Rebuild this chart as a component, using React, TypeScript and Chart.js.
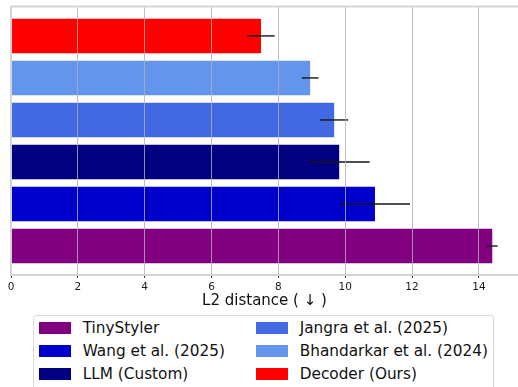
import React, { useEffect, useRef } from "react";
import { Chart, registerables } from "chart.js";

Chart.register(...registerables);

// Mean L2 distance per method (lower is better) with its spread
const methods = [
  "TinyStyler",
  "Wang et al. (2025)",
  "LLM (Custom)",
  "Jangra et al. (2025)",
  "Bhandarkar et al. (2024)",
  "Decoder (Ours)",
];
const l2Distance = [14.4, 10.89, 9.82, 9.67, 8.95, 7.48];
const l2Error = [0.16, 1.05, 0.91, 0.42, 0.25, 0.41];
const barColors = ["#800080", "#0000cd", "#000080", "#4169e1", "#6495ed", "#ff0000"];
const xTicks = [0, 2, 4, 6, 8, 10, 12, 14];
const xMax = 15.17;

const FONT = "'DejaVu Sans', sans-serif";
const SPINE = "#d4d4d4";

// horizontal error whiskers, no caps
const errorBars = {
  id: "errorBars",
  afterDatasetsDraw(chart: any) {
    const { ctx } = chart;
    const x = chart.scales.x;
    const meta = chart.getDatasetMeta(0);
    ctx.save();
    ctx.strokeStyle = "#151515";
    ctx.lineWidth = 1.4;
    meta.data.forEach((bar: any, i: number) => {
      const v = l2Distance[i];
      const e = l2Error[i];
      ctx.beginPath();
      ctx.moveTo(x.getPixelForValue(v - e), bar.y);
      ctx.lineTo(x.getPixelForValue(v + e), bar.y);
      ctx.stroke();
    });
    ctx.restore();
  },
};

// left and top axis spines
const spines = {
  id: "spines",
  afterDraw(chart: any) {
    const { ctx, chartArea: a } = chart;
    ctx.save();
    ctx.strokeStyle = SPINE;
    ctx.lineWidth = 2;
    ctx.beginPath();
    ctx.moveTo(a.left, a.bottom);
    ctx.lineTo(a.left, a.top);
    ctx.lineTo(a.right + 2, a.top);
    ctx.stroke();
    ctx.restore();
  },
};

export default function App() {
  const canvasRef = useRef<HTMLCanvasElement | null>(null);

  useEffect(() => {
    if (!canvasRef.current) return;
    const chart = new Chart(canvasRef.current, {
      type: "bar",
      data: {
        datasets: [
          {
            label: "L2 distance",
            data: l2Distance.map((v, i) => ({ x: v, y: i })),
            backgroundColor: barColors,
            borderWidth: 0,
            categoryPercentage: 1,
            barPercentage: 0.82,
          },
        ],
      },
      options: {
        indexAxis: "y",
        responsive: false,
        animation: false,
        devicePixelRatio: 1,
        layout: { padding: { left: 11, right: 0, top: 6.5, bottom: 76.5 } },
        plugins: {
          legend: { display: false },
          tooltip: { enabled: false },
        },
        scales: {
          y: {
            type: "linear",
            display: false,
            offset: false,
            min: -0.69,
            max: 5.7,
            grid: { offset: false },
            // one tick per method row
            afterBuildTicks: (s: any) => {
              s.ticks = methods.map((_, i) => ({ value: i }));
            },
          },
          x: {
            type: "linear",
            position: "bottom",
            min: 0,
            max: xMax,
            afterBuildTicks: (s: any) => {
              s.ticks = xTicks.map((v) => ({ value: v }));
            },
            afterFit: (s: any) => {
              s.height = 35.5;
            },
            // vertical grid sits above the bars
            grid: {
              z: 1,
              color: "rgba(176,176,176,0.8)",
              lineWidth: 1,
              tickLength: 3,
              tickColor: "#333",
            },
            border: { z: 1, color: SPINE, width: 2 },
            ticks: {
              font: { family: FONT, size: 10.5 },
              color: "#1a1a1a",
              padding: 3,
              maxRotation: 0,
              autoSkip: false,
            },
            title: {
              display: true,
              text: "L2 distance ( ↓ )",
              font: { family: FONT, size: 15 },
              color: "#111",
              padding: { top: 0, bottom: 0 },
            },
          },
        },
      },
      plugins: [errorBars, spines],
    } as any);
    return () => chart.destroy();
  }, []);

  return (
    <div
      style={{
        position: "fixed",
        left: 0,
        top: 0,
        width: 518,
        height: 387,
        overflow: "hidden",
        background: "#fff",
        fontFamily: FONT,
      }}
    >
      <canvas ref={canvasRef} width={518} height={387} style={{ display: "block" }} />
      <div
        style={{
          position: "absolute",
          left: 33,
          top: 315,
          width: 461,
          height: 90,
          border: "1px solid #d9d9d9",
          borderRadius: 3,
          background: "#fff",
          boxSizing: "border-box",
        }}
      />
      {methods.map((m, i) => {
        const col = Math.floor(i / 3);
        const row = i % 3;
        const left = 39 + col * 217;
        const cy = 328.3 + row * 22.9;
        return (
          <div key={m}>
            <div
              style={{
                position: "absolute",
                left,
                top: cy - 5.9,
                width: 32,
                height: 11.7,
                background: barColors[i],
              }}
            />
            <div
              style={{
                position: "absolute",
                left: left + 43.7,
                top: cy - 11,
                height: 22,
                lineHeight: "22px",
                fontSize: 15.3,
                color: "#111",
                whiteSpace: "nowrap",
              }}
            >
              {m}
            </div>
          </div>
        );
      })}
    </div>
  );
}
